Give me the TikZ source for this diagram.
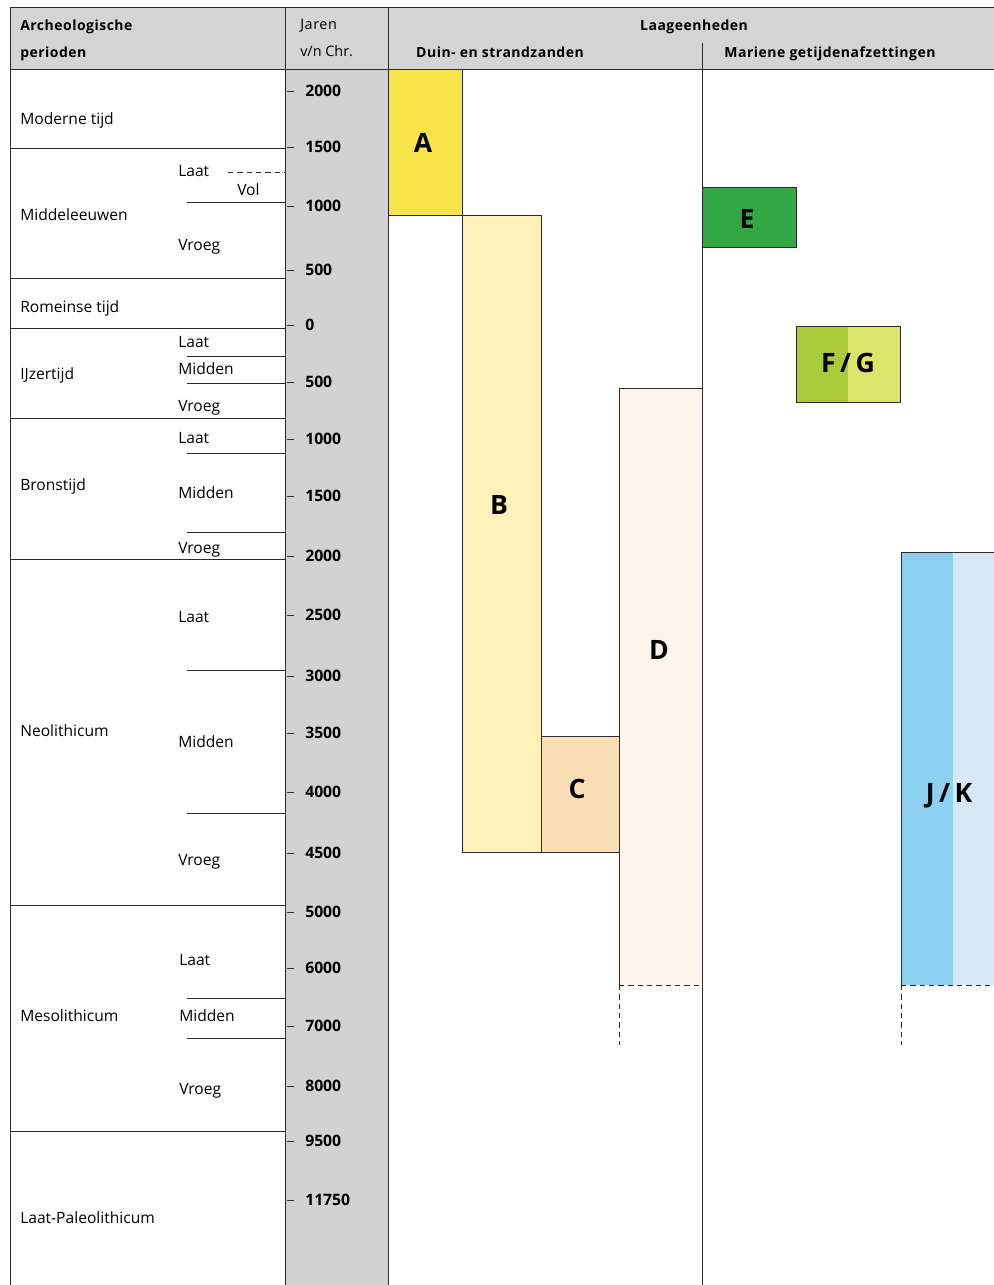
\documentclass[tikz,border=0pt]{standalone}
\usepackage{fontspec}
\setmainfont{Open Sans}
\definecolor{hdrgray}{HTML}{D4D4D4}
\definecolor{colgray}{HTML}{D2D2D2}
\definecolor{cA}{HTML}{F7E44A}
\definecolor{cB}{HTML}{FDF1B9}
\definecolor{cC}{HTML}{F9DDB5}
\definecolor{cD}{HTML}{FDF4EC}
\definecolor{cE}{HTML}{34A745}
\definecolor{cF}{HTML}{A9CB3C}
\definecolor{cG}{HTML}{DCE46C}
\definecolor{cJ}{HTML}{8CCFF1}
\definecolor{cK}{HTML}{D5E8F6}
\definecolor{lin}{HTML}{2A2A2A}
\tikzset{
  lbl/.style={anchor=base west, inner sep=0pt, font=\fontsize{11.7}{13}\selectfont},
  hdr/.style={anchor=base west, inner sep=0pt, font=\fontsize{10.5}{12}\selectfont\bfseries\addfontfeatures{LetterSpace=3.5}},
  hdrc/.style={anchor=base, inner sep=0pt, font=\fontsize{10.5}{12}\selectfont\bfseries\addfontfeatures{LetterSpace=3.5}},
  yr/.style={anchor=base west, inner sep=0pt, font=\fontsize{11.8}{13}\selectfont\bfseries},
  big/.style={anchor=center, inner sep=0pt, font=\fontsize{20}{24}\selectfont\bfseries},
  rule/.style={draw=lin, line width=0.7pt},
  edge/.style={draw=lin, line width=0.7pt},
  dline/.style={draw=lin, line width=0.7pt, dash pattern=on 4pt off 3pt},
}
\begin{document}
\begin{tikzpicture}[x=0.75pt,y=-0.75pt]
\useasboundingbox[fill=white] (0,0) rectangle (994,1285);
% gray backgrounds
\fill[hdrgray] (10,7) rectangle (994,69);
\fill[colgray] (285,69) rectangle (388,1285);
% boxes
\fill[cA] (388,69) rectangle (462,215);
\fill[cB] (462,215) rectangle (541,852);
\fill[cC] (541,736) rectangle (619,852);
\fill[cD] (619,388) rectangle (702,985);
\fill[cE] (702,187) rectangle (796,247);
\fill[cF] (796,326) rectangle (848,402);
\fill[cG] (848,326) rectangle (900,402);
\fill[cJ] (901,552) rectangle (953,985);
\fill[cK] (953,552) rectangle (994,985);
\draw[edge] (388,69) rectangle (462,215);
\draw[edge] (462,215) rectangle (541,852);
\draw[edge] (541,736) rectangle (619,852);
\draw[edge] (619,985) -- (619,388) -- (702,388);
\draw[dline] (619,985) -- (702,985);
\draw[dline] (619,985) -- (619,1045);
\draw[edge] (702,187) rectangle (796,247);
\draw[edge] (796,326) rectangle (900,402);
\draw[edge] (901,985) -- (901,552) -- (994,552);
\draw[dline] (901,985) -- (994,985);
\draw[dline] (901,985) -- (901,1045);
% box labels
\node[big] (lA) at (423,143) {A};
\node[big] (lB) at (499,505) {B};
\node[big] (lC) at (577,789) {C};
\node[big] (lD) at (659,650) {D};
\node[big] (lE) at (747,219) {E};
\node[big] (lFG) at (848,363) {F\,/\,G};
\node[big] (lJK) at (949,796) {J\,/\,K};
% frame lines
\draw[rule] (10,7) -- (994,7);
\draw[rule] (10,69) -- (994,69);
\draw[rule] (10,7) -- (10,1285);
\draw[rule] (285,7) -- (285,1285);
\draw[rule] (388,7) -- (388,1285);
\draw[rule] (702,43) -- (702,1285);
% period lines
\foreach \y in {148,278,328,418,559,905,1131} \draw[rule] (10,\y) -- (285,\y);
\foreach \y in {202,356,383,453,532,670,813,998,1038} \draw[rule] (187,\y) -- (285,\y);
\draw[dline] (228,172) -- (285,172);
% header
\node[hdr] (h1) at (20,30) {Archeologische};
\node[hdr] (h2) at (20,57) {perioden};
\node[hdr, font=\fontsize{10.8}{12}\selectfont\addfontfeatures{LetterSpace=4}] (h3) at (300,29) {Jaren};
\node[hdr, font=\fontsize{10.8}{12}\selectfont] (h4) at (300,56) {v/n Chr.};
\node[hdrc] (h5) at (694,30) {Laageenheden};
\node[hdrc] (h6) at (500,57) {Duin- en strandzanden};
\node[hdrc] (h7) at (830,57) {Mariene getijdenafzettingen};
% periods
\node[lbl] (p1) at (20,124) {Moderne tijd};
\node[lbl] (p2) at (20,220) {Middeleeuwen};
\node[lbl] (p3) at (20,312) {Romeinse tijd};
\node[lbl] (p4) at (20,379) {IJzertijd};
\node[lbl] (p5) at (20,490) {Bronstijd};
\node[lbl] (p6) at (20,736) {Neolithicum};
\node[lbl] (p7) at (20,1021) {Mesolithicum};
\node[lbl] (p8) at (20,1223) {Laat-Paleolithicum};
% subperiods
\node[lbl] (s1) at (178,176) {Laat};
\node[lbl] (s2) at (237,195) {Vol};
\node[lbl] (s3) at (178,250) {Vroeg};
\node[lbl] (s4) at (178,347) {Laat};
\node[lbl] (s5) at (178,374) {Midden};
\node[lbl] (s6) at (178,411) {Vroeg};
\node[lbl] (s7) at (178,443) {Laat};
\node[lbl] (s8) at (178,498) {Midden};
\node[lbl] (s9) at (178,553) {Vroeg};
\node[lbl] (s10) at (178,622) {Laat};
\node[lbl] (s11) at (178,747) {Midden};
\node[lbl] (s12) at (178,865) {Vroeg};
\node[lbl] (s13) at (179,965) {Laat};
\node[lbl] (s14) at (179,1021) {Midden};
\node[lbl] (s15) at (179,1094) {Vroeg};
% years
\foreach \y/\t [count=\i] in {91/2000,147/1500,206/1000,270/500,325/0,382/500,439/1000,496/1500,556/2000,615/2500,676/3000,733/3500,792/4000,853/4500,912/5000,968/6000,1026/7000,1086/8000,1141/9500,1200/11750}{
  \draw[rule] (287,\y) -- (294,\y);
  \node[yr] (y\i) at (305,\y+5) {\t};
}
\end{tikzpicture}
\end{document}
